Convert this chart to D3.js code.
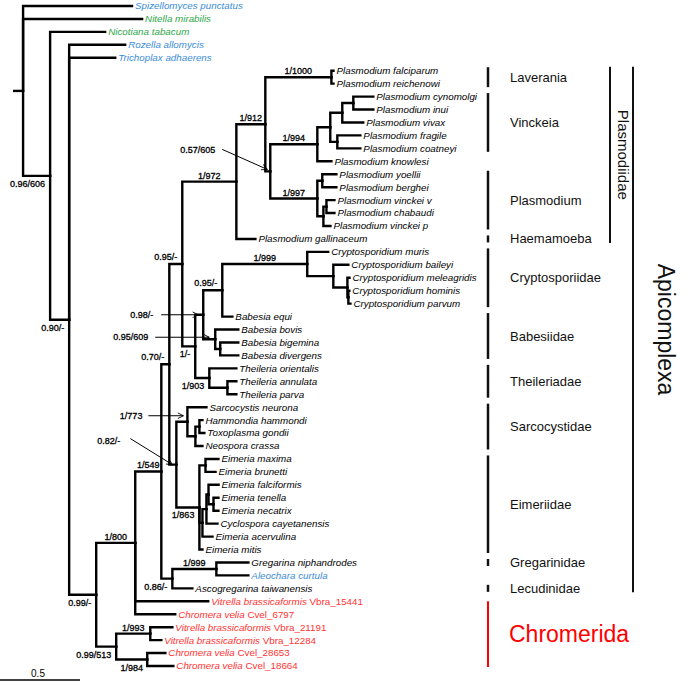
<!DOCTYPE html>
<html><head><meta charset="utf-8">
<script src="https://cdn.jsdelivr.net/npm/d3@7"></script>
<style>body{margin:0;background:#fff}svg{display:block}</style>
</head><body><svg id="chart" width="685" height="682"></svg>
<script>
// ---------------- DATA ----------------
const rootStub = 0.063;
// [parent, child, branch length (subst./site)]
const edges = [
 ["root","Spizellomyces punctatus",0.681],
 ["root","Nitella mirabilis",0.744],
 ["root","n_A",0.169],
 ["n_A","Nicotiana tabacum",0.344],
 ["n_A","n_B",0.119],
 ["n_B","Rozella allomycis",0.35],
 ["n_B","Trichoplax adhaerens",0.288],
 ["n_B","n_C",0.169],
 ["n_C","n_D",0.244],
 ["n_D","n_F",0.163],
 ["n_F","n_G",0.05],
 ["n_G","n_P",0.081],
 ["n_P","n_PL",0.338],
 ["n_PL","n_PM",0.181],
 ["n_PM","n_LV",0.413],
 ["n_LV","Plasmodium falciparum",0.013],
 ["n_LV","Plasmodium reichenowi",0.013],
 ["n_PM","n_PN",0.031],
 ["n_PN","n_VK",0.294],
 ["n_VK","n_VK2",0.081],
 ["n_VK2","n_A1",0.075],
 ["n_A1","n_A3",0.069],
 ["n_A3","Plasmodium cynomolgi",0.125],
 ["n_A3","Plasmodium inui",0.125],
 ["n_A1","Plasmodium vivax",0.131],
 ["n_VK2","n_A2",0.044],
 ["n_A2","Plasmodium fragile",0.144],
 ["n_A2","Plasmodium coatneyi",0.144],
 ["n_VK","Plasmodium knowlesi",0.088],
 ["n_PN","n_PR",0.294],
 ["n_PR","n_PR1",0.031],
 ["n_PR1","Plasmodium yoellii",0.088],
 ["n_PR1","Plasmodium berghei",0.088],
 ["n_PR","n_PR2",0.038],
 ["n_PR2","n_PR3",0.019],
 ["n_PR3","Plasmodium vinckei v",0.05],
 ["n_PR3","Plasmodium chabaudi",0.05],
 ["n_PR2","Plasmodium vinckei p",0.044],
 ["n_PL","Plasmodium gallinaceum",0.119],
 ["n_P","n_Q",0.081],
 ["n_Q","n_BC",0.05],
 ["n_BC","n_CB",0.119],
 ["n_CB","n_CR",0.531],
 ["n_CR","Cryptosporidium muris",0.131],
 ["n_CR","n_CR2",0.163],
 ["n_CR2","Cryptosporidium baileyi",0.094],
 ["n_CR2","n_CR3",0.088],
 ["n_CR3","Cryptosporidium meleagridis",0.013],
 ["n_CR3","n_CR4",0.006],
 ["n_CR4","Cryptosporidium hominis",0.006],
 ["n_CR4","Cryptosporidium parvum",0.013],
 ["n_CB","Babesia equi",0.063],
 ["n_BC","n_BB",0.075],
 ["n_BB","Babesia bovis",0.144],
 ["n_BB","n_BB2",0.031],
 ["n_BB2","Babesia bigemina",0.113],
 ["n_BB2","Babesia divergens",0.113],
 ["n_Q","n_TH",0.088],
 ["n_TH","Theileria orientalis",0.169],
 ["n_TH","n_TH2",0.113],
 ["n_TH2","Theileria annulata",0.056],
 ["n_TH2","Theileria parva",0.056],
 ["n_G","n_K",0.044],
 ["n_K","n_SC",0.069],
 ["n_SC","Sarcocystis neurona",0.119],
 ["n_SC","n_SC2",0.05],
 ["n_SC2","n_SC3",0.025],
 ["n_SC3","Hammondia hammondi",0.019],
 ["n_SC3","Toxoplasma gondii",0.031],
 ["n_SC2","Neospora crassa",0.044],
 ["n_K","n_E1",0.144],
 ["n_E1","n_EM",0.038],
 ["n_EM","Eimeria maxima",0.081],
 ["n_EM","Eimeria brunetti",0.063],
 ["n_E1","n_E2",0.019],
 ["n_E2","n_E3",0.025],
 ["n_E3","n_E4",0.013],
 ["n_E4","Eimeria falciformis",0.063],
 ["n_E4","n_E5",0.031],
 ["n_E5","Eimeria tenella",0.031],
 ["n_E5","Eimeria necatrix",0.031],
 ["n_E3","Cyclospora cayetanensis",0.069],
 ["n_E2","Eimeria acervulina",0.063],
 ["n_E1","Eimeria mitis",0.019],
 ["n_F","n_H",0.069],
 ["n_H","n_GN",0.275],
 ["n_GN","Gregarina niphandrodes",0.2],
 ["n_GN","Aleochara curtula",0.2],
 ["n_H","Ascogregarina taiwanensis",0.125],
 ["n_D","Vitrella brassicaformis Vbra_15441",0.456],
 ["n_D","Chromera velia Cvel_6797",0.25],
 ["n_C","n_E",0.125],
 ["n_E","n_Ea",0.213],
 ["n_Ea","Vitrella brassicaformis Vbra_21191",0.138],
 ["n_Ea","Vitrella brassicaformis Vbra_12284",0.069],
 ["n_E","n_Eb",0.194],
 ["n_Eb","Chromera velia Cvel_28653",0.113],
 ["n_Eb","Chromera velia Cvel_18664",0.163]
];

// support values: [node, label, placement]
const supports = [
 ["n_A","0.96/606","below"],
 ["n_B","0.90/-","below"],
 ["n_C","0.99/-","below"],
 ["n_D","1/800","above"],
 ["n_E","0.99/513","below"],
 ["n_Ea","1/993","above"],
 ["n_Eb","1/984","under"],
 ["n_F","1/549","above"],
 ["n_H","0.86/-","below"],
 ["n_GN","1/999","above"],
 ["n_G","0.70/-","aboveLeft"],
 ["n_P","0.95/-","aboveLeft"],
 ["n_PL","1/972","above"],
 ["n_PM","1/912","above"],
 ["n_LV","1/1000","above"],
 ["n_PN","0.57/605","arrow"],
 ["n_VK","1/994","above"],
 ["n_PR","1/997","above"],
 ["n_CR","1/999","above"],
 ["n_CB","0.95/-","aboveLeft"],
 ["n_BC","0.98/-","arrow"],
 ["n_BB","0.95/609","arrow"],
 ["n_Q","1/-","below"],
 ["n_TH","1/903","below"],
 ["n_SC","1/773","arrow"],
 ["n_K","0.82/-","arrow"],
 ["n_E1","1/863","below"]
];

const blueTaxa = ["Spizellomyces punctatus","Rozella allomycis","Trichoplax adhaerens","Aleochara curtula"];
const greenTaxa = ["Nitella mirabilis","Nicotiana tabacum"];
const redTaxa = ["Vitrella brassicaformis Vbra_15441","Chromera velia Cvel_6797","Vitrella brassicaformis Vbra_21191",
 "Vitrella brassicaformis Vbra_12284","Chromera velia Cvel_28653","Chromera velia Cvel_18664"];

// family brackets: [label, first leaf, last leaf]
const families = [
 ["Laverania","Plasmodium falciparum","Plasmodium reichenowi"],
 ["Vinckeia","Plasmodium cynomolgi","Plasmodium coatneyi"],
 ["Plasmodium","Plasmodium yoellii","Plasmodium vinckei p"],
 ["Haemamoeba","Plasmodium gallinaceum","Plasmodium gallinaceum"],
 ["Cryptosporiidae","Cryptosporidium muris","Cryptosporidium parvum"],
 ["Babesiidae","Babesia equi","Babesia divergens"],
 ["Theileriadae","Theileria orientalis","Theileria parva"],
 ["Sarcocystidae","Sarcocystis neurona","Neospora crassa"],
 ["Eimeriidae","Eimeria maxima","Eimeria mitis"],
 ["Gregarinidae","Gregarina niphandrodes","Gregarina niphandrodes"],
 ["Lecudinidae","Ascogregarina taiwanensis","Ascogregarina taiwanensis"]
];
const chromerida = ["Chromerida","Vitrella brassicaformis Vbra_15441","Chromera velia Cvel_18664"];
const plasmodiidae = ["Plasmodiidae","Plasmodium falciparum","Plasmodium gallinaceum"];
const apicomplexa = ["Apicomplexa","Plasmodium falciparum","Ascogregarina taiwanensis"];
const scaleBarValue = 0.5;

// ---------------- DRAW ----------------
const svg = d3.select("#chart");
const FONT = "'Liberation Sans', Arial, Helvetica, sans-serif";

const rows = [{id:"root", parent:"", len:rootStub}].concat(edges.map(e => ({id:e[1], parent:e[0], len:e[2]})));
const root = d3.stratify().id(d => d.id).parentId(d => d.parent)(rows);
root.eachBefore(n => { n.dist = (n.parent ? n.parent.dist : 0) + n.data.len; });

const x = d3.scaleLinear().domain([0, 1]).range([13, 173]);
const leaves = root.leaves();
const y = d3.scalePoint().domain(leaves.map(d => d.id)).range([6, 666]);
root.eachAfter(n => {
  n.px = x(n.dist);
  n.py = n.children ? (n.children[0].py + n.children[n.children.length - 1].py) / 2 : y(n.id);
});
const byId = new Map(root.descendants().map(d => [d.id, d]));

const defs = svg.append("defs");
defs.append("marker").attr("id", "arr").attr("viewBox", "0 0 10 10")
  .attr("refX", 9).attr("refY", 5).attr("markerWidth", 7).attr("markerHeight", 7)
  .attr("markerUnits", "userSpaceOnUse").attr("orient", "auto")
  .append("path").attr("d", "M1,1L9,5L1,9").attr("fill", "none").attr("stroke", "#000").attr("stroke-width", 1.3);

const tree = svg.append("g");
tree.append("path").attr("d", `M${x(0)},${root.py}H${root.px}`)
  .attr("stroke", "#000").attr("stroke-width", 2.4).attr("fill", "none");
tree.selectAll("path.link").data(root.descendants().filter(d => d.parent)).join("path")
  .attr("class", "link")
  .attr("d", d => `M${d.parent.px},${d.parent.py}V${d.py}H${d.px}`)
  .attr("fill", "none").attr("stroke", "#000").attr("stroke-width", 2.4)
  .attr("stroke-linejoin", "miter").attr("stroke-linecap", "square");

// leaf labels
const colorOf = n => blueTaxa.includes(n) ? "#3b8dd8" : greenTaxa.includes(n) ? "#2ea64a" : redTaxa.includes(n) ? "#ff3333" : "#000";
const lab = svg.append("g").attr("font-family", FONT).attr("font-size", 9.8);
leaves.forEach(l => {
  const t = lab.append("text").attr("x", l.px + 3).attr("y", l.py).attr("dy", "0.35em").attr("fill", colorOf(l.id));
  const m = l.id.match(/^(.*) ((?:Vbra|Cvel)_\d+)$/);
  if (m) {
    t.append("tspan").attr("font-style", "italic").text(m[1] + " ");
    t.append("tspan").text(m[2]);
  } else {
    t.attr("font-style", "italic").text(l.id);
  }
});

// support labels
const arrowLayout = {
  n_PN: {tx:-55, ty:-22, x0:-48, y0:-22, x1:-3, y1:-2},
  n_BC: {tx:-50, ty:0, x0:-42, y0:0, x1:-5, y1:0},
  n_BB: {tx:-67, ty:-2, x0:-60, y0:-2, x1:-6, y1:-2},
  n_SC: {tx:-45, ty:-6, x0:-39, y0:-6, x1:-4, y1:-6},
  n_K:  {tx:-56, ty:-24, x0:-46, y0:-26, x1:-4, y1:0}
};
const sup = svg.append("g").attr("font-family", FONT).attr("font-size", 9)
  .attr("fill", "#000").attr("stroke", "#000").attr("stroke-width", 0.3);
supports.forEach(([id, txt, pos]) => {
  const n = byId.get(id);
  if (pos === "above") {
    sup.append("text").attr("x", (n.parent.px + n.px) / 2).attr("y", n.py - 3).attr("text-anchor", "middle").text(txt);
  } else if (pos === "under") {
    sup.append("text").attr("x", (n.parent.px + n.px) / 2).attr("y", n.py + 11).attr("text-anchor", "middle").text(txt);
  } else if (pos === "below") {
    sup.append("text").attr("x", n.px - 5).attr("y", n.py + 11).attr("text-anchor", "end").text(txt);
  } else if (pos === "aboveLeft") {
    sup.append("text").attr("x", n.px - 5).attr("y", n.py - 4).attr("text-anchor", "end").text(txt);
  } else if (pos === "arrow") {
    const a = arrowLayout[id];
    sup.append("text").attr("x", n.px + a.tx).attr("y", n.py + a.ty).attr("dy", "0.35em").attr("text-anchor", "end").text(txt);
    sup.append("line").attr("x1", n.px + a.x0).attr("y1", n.py + a.y0).attr("x2", n.px + a.x1).attr("y2", n.py + a.y1)
      .attr("stroke", "#000").attr("stroke-width", 1).attr("marker-end", "url(#arr)");
  }
});

// brackets
const br = svg.append("g").attr("font-family", FONT);
const famX = 488, famLabelX = 510;
families.forEach(([name, a, b]) => {
  const y0 = y(a) - 3.5, y1 = y(b) + 3.5;
  br.append("line").attr("x1", famX).attr("x2", famX).attr("y1", y0).attr("y2", y1).attr("stroke", "#111").attr("stroke-width", 2.5);
  br.append("text").attr("x", famLabelX).attr("y", (y0 + y1) / 2).attr("dy", "0.35em").attr("font-size", 13).attr("fill", "#111").text(name);
});
{
  const [name, a, b] = chromerida;
  const y0 = y(a), y1 = y(b) + 1;
  br.append("line").attr("x1", famX).attr("x2", famX).attr("y1", y0).attr("y2", y1).attr("stroke", "#ff0000").attr("stroke-width", 2);
  br.append("text").attr("x", famLabelX - 1).attr("y", (y0 + y1) / 2).attr("dy", "0.35em").attr("font-size", 23).attr("fill", "#ff0000").text(name);
}
[[plasmodiidae, 610, 623, 15], [apicomplexa, 633, 666, 23]].forEach(([[name, a, b], bx, lx, fs]) => {
  const y0 = y(a) - 4, y1 = y(b) + 4;
  br.append("line").attr("x1", bx).attr("x2", bx).attr("y1", y0).attr("y2", y1).attr("stroke", "#111").attr("stroke-width", 2);
  br.append("text").attr("transform", `translate(${lx},${(y0 + y1) / 2}) rotate(90)`)
    .attr("text-anchor", "middle").attr("dy", "0.35em").attr("font-size", fs).attr("fill", "#111").text(name);
});

// scale bar
const sbLen = x(scaleBarValue) - x(0);
svg.append("line").attr("x1", 0).attr("x2", sbLen).attr("y1", 680).attr("y2", 680).attr("stroke", "#000").attr("stroke-width", 1.3);
svg.append("text").attr("x", sbLen / 2 - 2).attr("y", 677).attr("text-anchor", "middle")
  .attr("font-family", FONT).attr("font-size", 10).text(String(scaleBarValue));
</script>
</body></html>
